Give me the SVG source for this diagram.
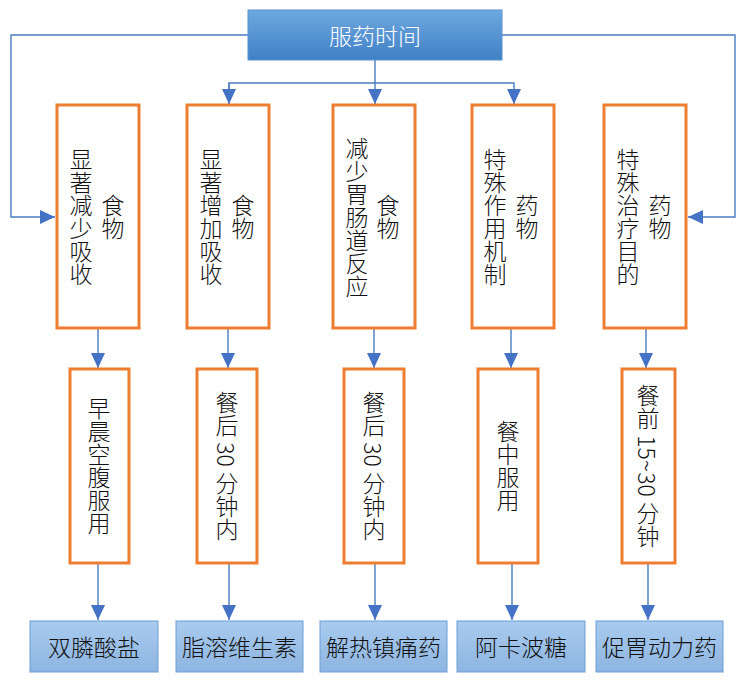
<svg xmlns="http://www.w3.org/2000/svg" width="747" height="684" viewBox="0 0 747 684">
<style>
.ob{fill:#fff;stroke:#ed7d31;stroke-width:3}
.bb{fill:url(#gb);stroke:#6c9fd6;stroke-width:1}
.vt{font-family:"Noto Sans CJK SC","Noto Sans",sans-serif;font-size:23px;font-weight:300;fill:#111;writing-mode:vertical-rl;text-anchor:middle}
.ht{font-family:"Noto Sans CJK SC","Noto Sans",sans-serif;font-size:23px;font-weight:300;fill:#111;text-anchor:middle;dominant-baseline:central}
.c{fill:none;stroke:#4a7cc4;stroke-width:1.4}
</style>
<defs>
<linearGradient id="gt" x1="0" y1="0" x2="0" y2="1">
<stop offset="0" stop-color="#6ea8df"/><stop offset="1" stop-color="#3f80c6"/>
</linearGradient>
<linearGradient id="gb" x1="0" y1="0" x2="0" y2="1">
<stop offset="0" stop-color="#a9cbee"/><stop offset="1" stop-color="#8db5e1"/>
</linearGradient>
<marker id="ah" markerUnits="userSpaceOnUse" markerWidth="15" markerHeight="14" refX="15" refY="7" orient="auto">
<path d="M0,0 L15,7 L0,14 z" fill="#4472c4"/>
</marker>
</defs>
<g id="connectors">
<path class="c" d="M248,35 H11 V217 H55" marker-end="url(#ah)"/>
<path class="c" d="M502,35 H735 V217 H688" marker-end="url(#ah)"/>
<path class="c" d="M375,60 V104" marker-end="url(#ah)"/>
<path class="c" d="M229,104 V83 H514 V104" marker-end="url(#ah)"/>
<path class="c" d="M229,83 V104" marker-end="url(#ah)"/>
<path class="c" d="M98,328 V368" marker-end="url(#ah)"/>
<path class="c" d="M228,328 V368" marker-end="url(#ah)"/>
<path class="c" d="M374,328 V368" marker-end="url(#ah)"/>
<path class="c" d="M511,328 V368" marker-end="url(#ah)"/>
<path class="c" d="M646,328 V368" marker-end="url(#ah)"/>
<path class="c" d="M98,563 V620" marker-end="url(#ah)"/>
<path class="c" d="M229,563 V620" marker-end="url(#ah)"/>
<path class="c" d="M375,563 V620" marker-end="url(#ah)"/>
<path class="c" d="M512,563 V620" marker-end="url(#ah)"/>
<path class="c" d="M648,563 V620" marker-end="url(#ah)"/>
</g>
<g id="top">
<rect x="248" y="10" width="254" height="50" fill="url(#gt)" stroke="#5a92d2" stroke-width="1"/>
<text class="ht" x="375" y="35" style="fill:#fff">服药时间</text>
</g>
<g id="n1">
<rect class="ob" x="57" y="105" width="82" height="223"/>
<text class="vt" x="113" y="217">食物</text>
<text class="vt" x="81" y="217">显著减少吸收</text>
</g>
<g id="n2">
<rect class="ob" x="187" y="105" width="82" height="223"/>
<text class="vt" x="243" y="217">食物</text>
<text class="vt" x="211" y="217">显著增加吸收</text>
</g>
<g id="n3">
<rect class="ob" x="333" y="105" width="82" height="223"/>
<text class="vt" x="388" y="217">食物</text>
<text class="vt" x="357" y="217">减少胃肠道反应</text>
</g>
<g id="n4">
<rect class="ob" x="472" y="105" width="82" height="223"/>
<text class="vt" x="527" y="217">药物</text>
<text class="vt" x="495" y="217">特殊作用机制</text>
</g>
<g id="n5">
<rect class="ob" x="604" y="105" width="82" height="223"/>
<text class="vt" x="660" y="217">药物</text>
<text class="vt" x="628" y="217">特殊治疗目的</text>
</g>
<g id="m1">
<rect class="ob" x="70" y="369" width="59" height="194"/>
<text class="vt" x="99" y="466">早晨空腹服用</text>
</g>
<g id="m2">
<rect class="ob" x="197" y="369" width="60" height="194"/>
<text class="vt" x="227" y="466">餐后 30 分钟内</text>
</g>
<g id="m3">
<rect class="ob" x="344" y="369" width="60" height="194"/>
<text class="vt" x="374" y="466">餐后 30 分钟内</text>
</g>
<g id="m4">
<rect class="ob" x="478" y="369" width="60" height="194"/>
<text class="vt" x="508" y="466">餐中服用</text>
</g>
<g id="m5">
<rect class="ob" x="622" y="369" width="53" height="194"/>
<text class="vt" x="648" y="466">餐前 15~30 分钟</text>
</g>
<g id="b1">
<rect class="bb" x="30" y="621" width="128" height="51"/>
<text class="ht" x="94" y="646">双膦酸盐</text>
</g>
<g id="b2">
<rect class="bb" x="176" y="621" width="127" height="51"/>
<text class="ht" x="239.5" y="646">脂溶维生素</text>
</g>
<g id="b3">
<rect class="bb" x="320" y="621" width="127" height="51"/>
<text class="ht" x="383.5" y="646">解热镇痛药</text>
</g>
<g id="b4">
<rect class="bb" x="457" y="621" width="128" height="51"/>
<text class="ht" x="521" y="646">阿卡波糖</text>
</g>
<g id="b5">
<rect class="bb" x="596" y="621" width="127" height="51"/>
<text class="ht" x="659.5" y="646">促胃动力药</text>
</g>
</svg>
